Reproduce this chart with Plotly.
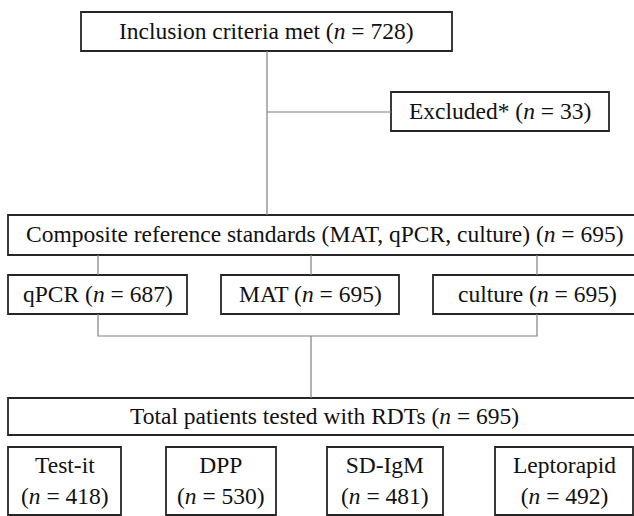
import plotly.graph_objects as go

# ---- data ----
labels = ["Inclusion criteria met", "Excluded*",
          "Composite reference standards (MAT, qPCR, culture)",
          "qPCR", "MAT", "culture",
          "Total patients tested with RDTs",
          "Test-it", "DPP", "SD-IgM", "Leptorapid"]
counts = [728, 33, 695, 687, 695, 695, 695, 418, 530, 481, 492]
two_line = [False, False, False, False, False, False, False, True, True, True, True]

# ---- layout geometry (pixel space) ----
boxes = [
    (81, 452, 12, 51),
    (391, 609, 92, 131),
    (8, 641, 215, 255),
    (8, 187, 275, 314),
    (221, 399, 275, 314),
    (433, 641, 275, 314),
    (8, 641, 398, 435),
    (8, 121, 447, 515),
    (166, 276, 447, 515),
    (327, 443, 447, 515),
    (495, 633, 447, 515),
]
connectors = [
    [(267, 51), (267, 215)],
    [(267, 112), (391, 112)],
    [(98, 255), (98, 275)],
    [(311, 255), (311, 275)],
    [(537, 255), (537, 275)],
    [(98, 314), (98, 336), (537, 336), (537, 314)],
    [(311, 336), (311, 398)],
]

W, H = 634, 516
FONT = "Liberation Serif"
fs = 23.5

fig = go.Figure()
shapes = []
for pts in connectors:
    path = "M " + " L ".join(f"{x},{y}" for x, y in pts)
    shapes.append(dict(type="path", path=path, xref="x", yref="y",
                       line=dict(color="#808080", width=1.2)))
for (x0, x1, y0, y1) in boxes:
    shapes.append(dict(type="rect", x0=x0, x1=x1, y0=y0, y1=y1, xref="x", yref="y",
                       line=dict(color="#262626", width=1.8), fillcolor="white", layer="below"))

annotations = []
for lab, n, tl, (x0, x1, y0, y1) in zip(labels, counts, two_line, boxes):
    sep = "<br>" if tl else " "
    txt = f"{lab}{sep}(<i>n</i> = {n})"
    annotations.append(dict(x=(x0 + x1) / 2, y=(y0 + y1) / 2 - 1, xref="x", yref="y",
                            text=txt, showarrow=False,
                            font=dict(family=FONT, size=fs, color="#111111"),
                            align="center", xanchor="center", yanchor="middle"))

fig.update_layout(
    width=W, height=H, margin=dict(l=0, r=0, t=0, b=0),
    paper_bgcolor="white", plot_bgcolor="white",
    xaxis=dict(range=[0, W], visible=False, fixedrange=True),
    yaxis=dict(range=[H, 0], visible=False, fixedrange=True),
    shapes=shapes, annotations=annotations, showlegend=False,
)
fig.write_html("out.html", config={"displayModeBar": False},
               post_script="document.body.style.margin='0';document.body.style.overflow='hidden';")
